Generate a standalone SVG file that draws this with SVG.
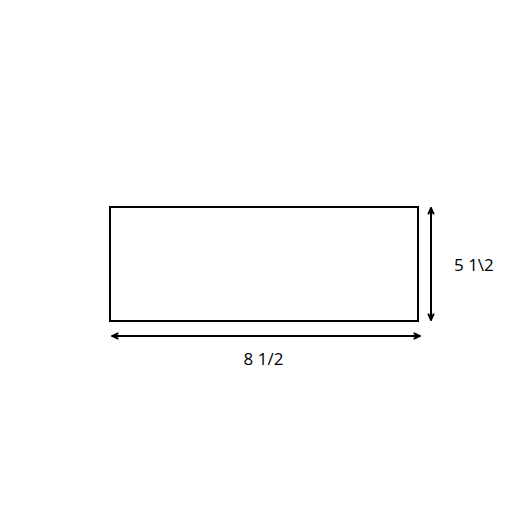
<svg xmlns="http://www.w3.org/2000/svg" width="528" height="528" viewBox="0 0 528 528">
<defs>
<marker id="ah" viewBox="0 0 10 10" refX="9" refY="5" markerWidth="8" markerHeight="8" markerUnits="userSpaceOnUse" orient="auto-start-reverse">
<path d="M1,1.5 L9,5 L1,8.5" fill="none" stroke="#000" stroke-width="2.4"/>
</marker>
<style>
.ln{stroke:#000;stroke-width:2;fill:none}
.lbl{font-family:"Open Sans","Liberation Sans",sans-serif;font-size:17px;fill:#000}
</style>
</defs>
<rect width="528" height="528" fill="#fff"/>
<g id="sheet">
<rect class="ln" x="110" y="207" width="308" height="114"/>
</g>
<g id="connectors">
<line class="ln" x1="112" y1="336" x2="420" y2="336" marker-start="url(#ah)" marker-end="url(#ah)"/>
<line class="ln" x1="431" y1="208" x2="431" y2="320" marker-start="url(#ah)" marker-end="url(#ah)"/>
</g>
<g id="width-label">
<text class="lbl" x="263.5" y="365" text-anchor="middle">8 1/2</text>
</g>
<g id="height-label">
<text class="lbl" x="454" y="271">5 1\2</text>
</g>
</svg>
